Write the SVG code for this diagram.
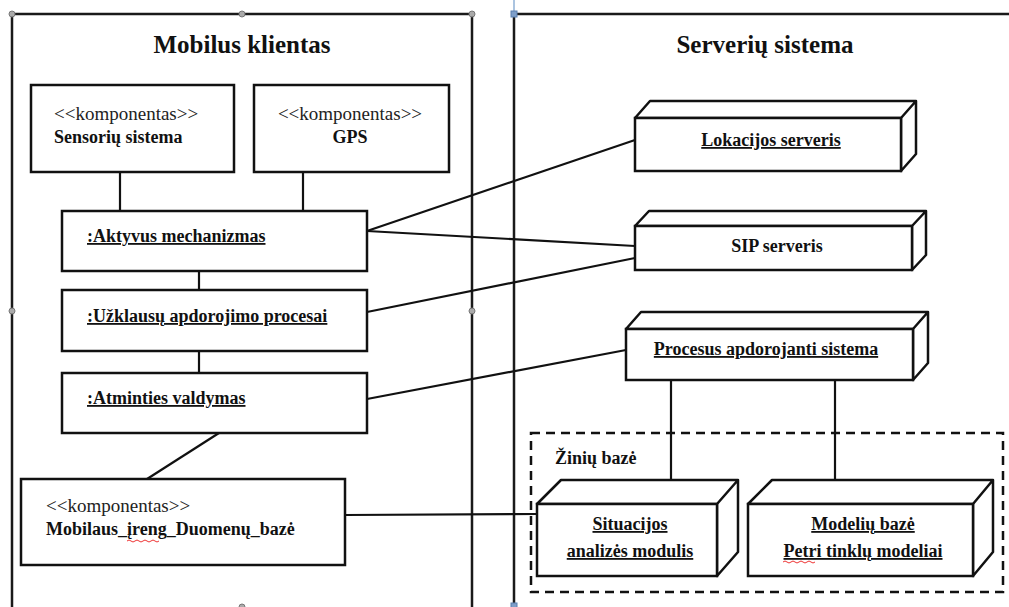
<svg xmlns="http://www.w3.org/2000/svg" width="1009" height="607" viewBox="0 0 1009 607">
<style>
.frame{fill:none;stroke:#1a1a1a;stroke-width:2.5}
.box{fill:#fff;stroke:#111;stroke-width:2.5}
.box3d{fill:#fff;stroke:#111;stroke-width:2.5;stroke-linejoin:round}
.con{fill:none;stroke:#111;stroke-width:2.2}
.handle{fill:#aaa;stroke:#777;stroke-width:1}
</style>
<rect width="1009" height="607" fill="#fff"/>
<g id="frame-mobilus">
<polyline class="frame" points="12,607 12,14 472,14 472,607"/>
<circle class="handle" cx="12" cy="14" r="3"/>
<circle class="handle" cx="242" cy="14" r="3"/>
<circle class="handle" cx="472" cy="14" r="3"/>
<circle class="handle" cx="12" cy="311" r="3"/>
<circle class="handle" cx="472" cy="311" r="3"/>
<circle class="handle" cx="242" cy="607" r="3"/>
<text font-family="Liberation Serif" font-weight="bold" font-size="25" fill="#111" x="242" y="53" text-anchor="middle">Mobilus klientas</text>
</g>
<g id="frame-serveriu">
<line x1="514" y1="0" x2="514" y2="13" stroke="#8fb0d6" stroke-width="1.5"/>
<polyline class="frame" points="514,607 514,14 1009,14"/>
<rect x="511" y="11" width="6" height="6" fill="#7f9fc9" stroke="#5a7fae" stroke-width="1"/>
<rect x="511" y="603" width="6" height="6" fill="#7f9fc9" stroke="#5a7fae" stroke-width="1"/>
<text font-family="Liberation Serif" font-weight="bold" font-size="25" fill="#111" x="765" y="53" text-anchor="middle">Serverių sistema</text>
</g>
<g id="connectors">
<line class="con" x1="120" y1="172" x2="120" y2="211"/>
<line class="con" x1="303" y1="172" x2="303" y2="211"/>
<line class="con" x1="199" y1="271" x2="199" y2="290"/>
<line class="con" x1="199" y1="351" x2="199" y2="373"/>
<line class="con" x1="219" y1="433" x2="147" y2="479"/>
<line class="con" x1="367" y1="231" x2="635" y2="140"/>
<line class="con" x1="367" y1="231" x2="635" y2="246"/>
<line class="con" x1="367" y1="312" x2="635" y2="258"/>
<line class="con" x1="367" y1="399" x2="626" y2="350"/>
<line class="con" x1="345" y1="515" x2="537" y2="514"/>
<line class="con" x1="671" y1="380" x2="671" y2="480"/>
<line class="con" x1="835" y1="380" x2="835" y2="480"/>
</g>
<g id="sensoriu">
<rect class="box" x="31" y="85" width="203" height="87"/>
<text font-family="Liberation Serif" font-size="19" fill="#222" x="54" y="120">&lt;&lt;komponentas&gt;&gt;</text>
<text font-family="Liberation Serif" font-weight="bold" font-size="18" fill="#111" x="54" y="143">Sensorių sistema</text>
</g>
<g id="gps">
<rect class="box" x="254" y="85" width="195" height="87"/>
<text font-family="Liberation Serif" font-size="19" fill="#222" x="350" y="120" text-anchor="middle">&lt;&lt;komponentas&gt;&gt;</text>
<text font-family="Liberation Serif" font-weight="bold" font-size="18" fill="#111" x="350" y="143" text-anchor="middle">GPS</text>
</g>
<g id="aktyvus">
<rect class="box" x="62" y="211" width="305" height="60"/>
<text font-family="Liberation Serif" font-weight="bold" font-size="18" fill="#111" text-decoration="underline" x="87" y="242">:Aktyvus mechanizmas</text>
</g>
<g id="uzklausu">
<rect class="box" x="62" y="290" width="305" height="61"/>
<text font-family="Liberation Serif" font-weight="bold" font-size="18" fill="#111" text-decoration="underline" x="87" y="322">:Užklausų apdorojimo procesai</text>
</g>
<g id="atminties">
<rect class="box" x="62" y="373" width="305" height="60"/>
<text font-family="Liberation Serif" font-weight="bold" font-size="18" fill="#111" text-decoration="underline" x="87" y="404">:Atminties valdymas</text>
</g>
<g id="mobilaus-db">
<rect class="box" x="21" y="479" width="324" height="86"/>
<text font-family="Liberation Serif" font-size="19" fill="#222" x="46" y="512">&lt;&lt;komponentas&gt;&gt;</text>
<text font-family="Liberation Serif" font-weight="bold" font-size="18" fill="#111" x="46" y="535">Mobilaus_įreng_Duomenų_bazė</text>
<path d="M127,541 q2,-2 4,0 t4,0 t4,0 t4,0 t4,0 t4,0 t4,0 t4,0" fill="none" stroke="#e33" stroke-width="1"/>
</g>
<g id="lokacijos">
<path class="box3d" d="M635,118 L650,101 L916,101 L916,154 L901,171 L901,118 Z M901,118 L916,101"/>
<rect class="box" x="635" y="118" width="266" height="53"/>
<text font-family="Liberation Serif" font-weight="bold" font-size="18" fill="#111" text-decoration="underline" x="771" y="146" text-anchor="middle">Lokacijos serveris</text>
</g>
<g id="sip">
<path class="box3d" d="M635,226 L649,211 L926,211 L926,255 L912,270 L912,226 Z M912,226 L926,211"/>
<rect class="box" x="635" y="226" width="277" height="44"/>
<text font-family="Liberation Serif" font-weight="bold" font-size="18" fill="#111" x="777" y="252" text-anchor="middle">SIP serveris</text>
</g>
<g id="procesus">
<path class="box3d" d="M626,329 L641,312 L928,312 L928,363 L913,380 L913,329 Z M913,329 L928,312"/>
<rect class="box" x="626" y="329" width="287" height="51"/>
<text font-family="Liberation Serif" font-weight="bold" font-size="18" fill="#111" text-decoration="underline" x="766" y="355" text-anchor="middle">Procesus apdorojanti sistema</text>
</g>
<g id="ziniu-baze">
<rect x="531" y="433" width="472" height="159" fill="none" stroke="#111" stroke-width="2.5" stroke-dasharray="9,6"/>
<text font-family="Liberation Serif" font-weight="bold" font-size="18" fill="#111" x="555" y="464">Žinių bazė</text>
</g>
<g id="situacijos">
<path class="box3d" d="M537,504 L561,480 L738,480 L738,552 L717,576 L717,504 Z M717,504 L738,480"/>
<rect class="box" x="537" y="504" width="180" height="72"/>
<text font-family="Liberation Serif" font-weight="bold" font-size="18" fill="#111" text-decoration="underline" x="630" y="530" text-anchor="middle">Situacijos</text>
<text font-family="Liberation Serif" font-weight="bold" font-size="18" fill="#111" text-decoration="underline" x="630" y="557" text-anchor="middle">analizės modulis</text>
</g>
<g id="modeliu">
<path class="box3d" d="M748,504 L772,480 L993,480 L993,552 L973,576 L973,504 Z M973,504 L993,480"/>
<rect class="box" x="748" y="504" width="225" height="72"/>
<text font-family="Liberation Serif" font-weight="bold" font-size="18" fill="#111" text-decoration="underline" x="863" y="530" text-anchor="middle">Modelių bazė</text>
<text font-family="Liberation Serif" font-weight="bold" font-size="18" fill="#111" text-decoration="underline" x="863" y="557" text-anchor="middle">Petri tinklų modeliai</text>
<path d="M783,562 q2,-2 4,0 t4,0 t4,0 t4,0 t4,0 t4,0 t4,0 t4,0" fill="none" stroke="#e33" stroke-width="1"/>
</g>
</svg>
